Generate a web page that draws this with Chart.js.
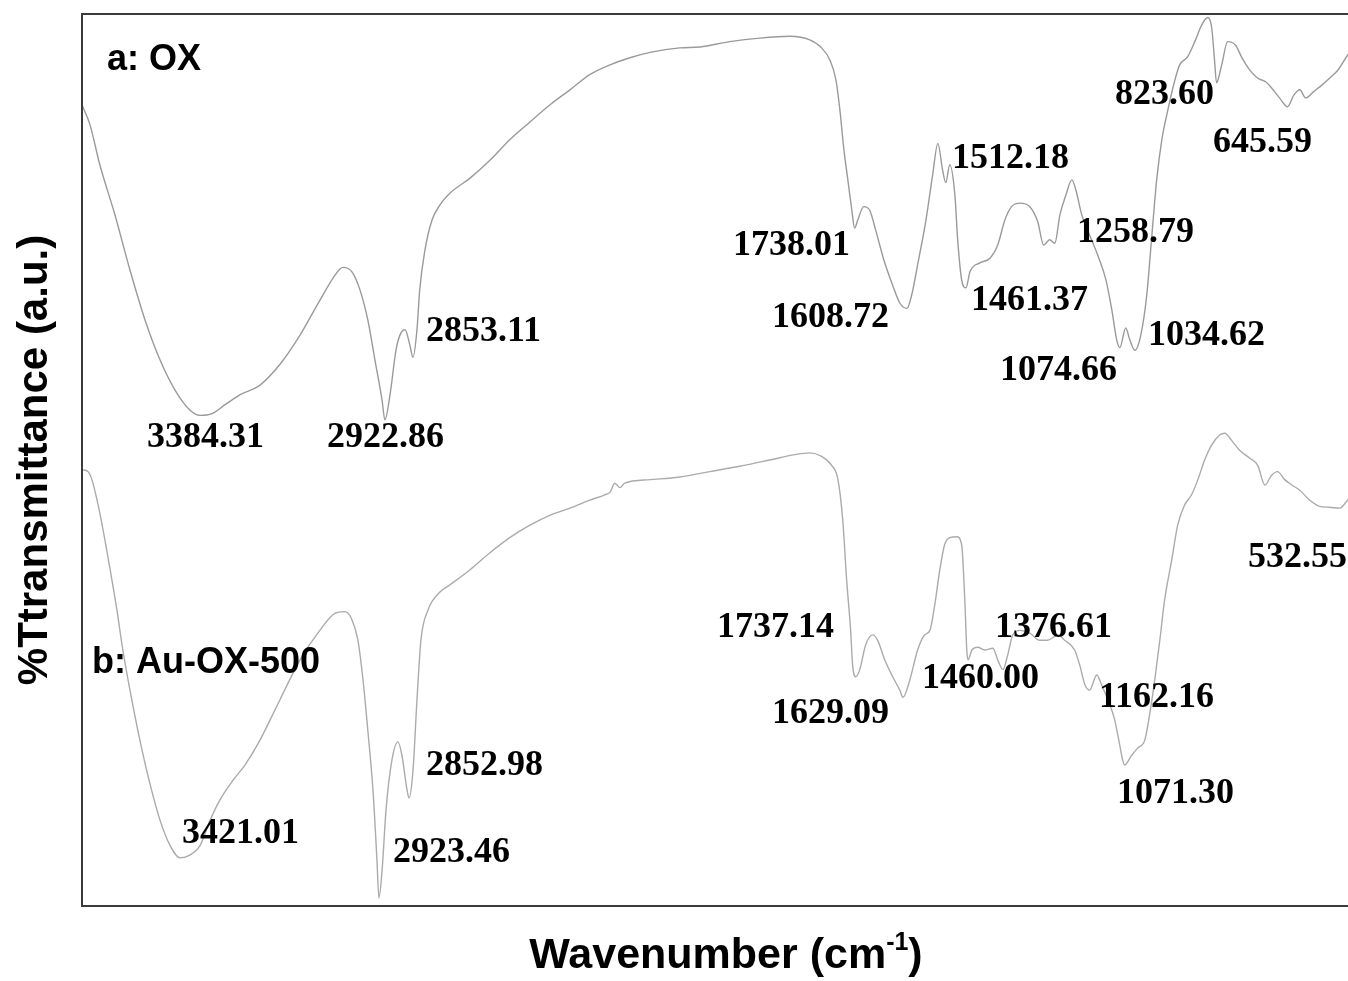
<!DOCTYPE html>
<html lang="en">

<head>
    <meta charset="UTF-8">
    <title>FTIR OX / Au-OX-500</title>
    <style>
        html,
        body {
            margin: 0;
            padding: 0;
            background: #fff;
            overflow: hidden;
        }

        canvas {
            display: block;
        }
    </style>
</head>

<body>

    <canvas id="ftirChart" width="1390" height="981"></canvas>

    <script src="https://cdn.jsdelivr.net/npm/chart.js"></script>

    <script>
        // a: OX
        const oxWavenumber = [
            3687, 3667, 3642, 3604, 3566, 3528, 3490, 3452, 3415, 3389,
            3359, 3326, 3289, 3238, 3188, 3137, 3087, 3049, 3029, 3006,
            2986, 2966, 2948, 2930, 2923, 2910, 2895, 2885, 2872, 2860,
            2852, 2842, 2835, 2822, 2804, 2784, 2759, 2708, 2658, 2608,
            2557, 2507, 2456, 2406, 2355, 2305, 2254, 2179, 2128, 2053,
            1977, 1901, 1851, 1821, 1800, 1785, 1775, 1765, 1755, 1745,
            1738, 1730, 1715, 1700, 1685, 1664, 1642, 1624, 1606, 1594,
            1579, 1558, 1541, 1528, 1516, 1508, 1498, 1485, 1478, 1468,
            1457, 1447, 1422, 1397, 1377, 1359, 1342, 1321, 1296, 1276,
            1261, 1246, 1233, 1220, 1205, 1190, 1180, 1165, 1145, 1125,
            1104, 1089, 1077, 1069, 1054, 1044, 1031, 1016, 1001, 989,
            976, 963, 948, 930, 918, 898, 878, 862, 847, 837,
            830, 825, 812, 797, 777, 761, 741, 721, 701, 686,
            666, 646, 630, 615, 600, 580, 560, 540, 519, 494,
            474
        ];
        const oxTransmittance = [
            89.8, 87.6, 83.1, 77.5, 71.3, 65.7, 61.2, 57.8, 55.6, 55.0,
            55.2, 56.2, 57.3, 58.4, 60.7, 64.0, 67.9, 70.7, 71.6, 71.1,
            69.1, 65.7, 61.2, 56.7, 54.5, 57.3, 62.3, 64.0, 64.6, 62.9,
            61.5, 64.6, 69.1, 73.5, 76.9, 78.6, 79.9, 81.6, 83.6, 85.9,
            87.9, 89.8, 91.5, 93.2, 94.3, 95.1, 95.7, 96.2, 96.3, 96.9,
            97.3, 97.5, 97.1, 96.2, 94.8, 92.6, 89.2, 84.8, 81.4, 78.0,
            76.0, 76.9, 78.4, 78.0, 75.8, 72.4, 69.6, 67.6, 67.0, 68.5,
            71.9, 76.9, 82.0, 85.5, 82.5, 81.1, 83.1, 79.7, 74.7, 70.2,
            69.3, 71.1, 72.1, 72.6, 74.1, 76.9, 78.4, 78.8, 78.4, 76.7,
            74.1, 74.7, 74.3, 77.5, 79.7, 81.4, 80.3, 77.5, 75.2, 73.0,
            70.2, 66.8, 63.5, 62.6, 64.8, 63.5, 62.3, 64.0, 68.5, 74.7,
            81.4, 85.9, 89.2, 92.6, 94.3, 95.2, 97.1, 98.8, 99.6, 98.4,
            94.8, 92.3, 94.3, 96.9, 96.5, 95.1, 93.7, 92.8, 92.4, 91.7,
            90.6, 89.6, 90.9, 91.5, 90.6, 91.3, 92.0, 92.8, 93.7, 95.4,
            96.5
        ];

        // b: Au-OX-500
        const auWavenumber = [
            3687, 3672, 3662, 3649, 3634, 3616, 3599, 3584, 3566, 3541,
            3515, 3490, 3465, 3440, 3415, 3389, 3364, 3339, 3306, 3276,
            3238, 3188, 3137, 3087, 3049, 3024, 3006, 2991, 2978, 2966,
            2953, 2943, 2938, 2930, 2920, 2905, 2890, 2880, 2867, 2862,
            2852, 2842, 2832, 2814, 2784, 2759, 2708, 2658, 2608, 2557,
            2507, 2456, 2406, 2368, 2355, 2343, 2330, 2318, 2254, 2179,
            2103, 2028, 1952, 1889, 1851, 1821, 1796, 1780, 1768, 1758,
            1748, 1743, 1735, 1725, 1710, 1692, 1680, 1662, 1642, 1624,
            1616, 1599, 1579, 1561, 1548, 1536, 1523, 1511, 1498, 1480,
            1468, 1460, 1455, 1452, 1442, 1427, 1410, 1389, 1377, 1364,
            1352, 1339, 1321, 1296, 1271, 1251, 1225, 1208, 1183, 1170,
            1157, 1145, 1127, 1115, 1099, 1082, 1069, 1062, 1057, 1039,
            1024, 1006, 994, 981, 968, 956, 938, 923, 905, 888,
            872, 855, 837, 817, 804, 787, 767, 741, 721, 703,
            686, 671, 653, 635, 615, 590, 565, 540, 514, 494,
            474
        ];
        const auTransmittance = [
            48.9, 48.7, 47.8, 45.5, 42.2, 37.7, 33.2, 28.7, 24.2, 18.6,
            13.6, 9.6, 6.8, 5.4, 5.7, 6.8, 9.6, 11.9, 14.1, 15.8,
            18.6, 23.1, 27.6, 30.9, 32.8, 33.0, 32.1, 29.8, 25.3, 19.7,
            13.0, 5.2, 0.9, 4.0, 10.8, 16.4, 18.4, 16.9, 13.0, 12.1,
            15.2, 23.1, 29.8, 33.2, 35.2, 36.0, 37.7, 39.6, 41.3, 42.7,
            43.8, 44.6, 45.5, 46.1, 46.4, 47.4, 46.9, 47.4, 47.8, 48.1,
            48.7, 49.3, 50.0, 50.6, 50.8, 50.4, 49.4, 47.8, 43.3, 36.5,
            30.9, 27.0, 25.7, 26.5, 29.3, 30.4, 29.8, 27.6, 25.7, 24.2,
            23.4, 25.3, 28.7, 30.4, 30.9, 33.7, 37.7, 40.5, 41.3, 41.4,
            40.5, 34.3, 28.7, 27.6, 28.7, 29.0, 28.7, 28.9, 27.6, 26.5,
            28.1, 30.4, 30.9, 30.6, 29.8, 29.8, 30.4, 29.8, 28.7, 27.0,
            24.8, 24.2, 25.9, 24.8, 23.1, 20.9, 18.0, 16.4, 15.8, 16.9,
            17.7, 18.6, 21.4, 25.3, 29.8, 34.3, 38.8, 42.7, 45.0, 46.1,
            47.8, 50.0, 51.7, 52.8, 53.0, 52.2, 51.1, 50.2, 49.4, 47.2,
            48.3, 48.7, 47.8, 47.2, 46.6, 45.5, 44.8, 44.7, 44.6, 45.5,
            46.1
        ];

        // 피크 라벨 (텍스트만, 위치는 아래 플러그인에서)
        const oxPeaks = ['3384.31', '2922.86', '2853.11', '1738.01', '1608.72', '1512.18',
            '1461.37', '1258.79', '1074.66', '1034.62', '823.60', '645.59'];
        const auPeaks = ['3421.01', '2923.46', '2852.98', '1737.14', '1629.09', '1460.00',
            '1376.61', '1162.16', '1071.30', '532.55'];

        const toPoints = (xs, ys) => xs.map((x, i) => ({ x: x, y: ys[i] }));

        // label placement, px offset from chart area top-left
        const oxPeakPos = [[65, 433], [245, 433], [344, 327], [651, 241], [690, 313], [870, 154],
            [889, 296], [995, 228], [918, 366], [1066, 331], [1033, 90], [1131, 138]];
        const auPeakPos = [[100, 829], [311, 848], [344, 761], [635, 623], [690, 709], [840, 674],
            [913, 623], [1017, 693], [1035, 789], [1166, 553]];

        const annotate = {
            id: 'annotate',
            afterDraw(chart) {
                const ctx = chart.ctx;
                const a = chart.chartArea;
                ctx.save();

                // frame
                ctx.strokeStyle = '#3a3a3a';
                ctx.lineWidth = 2;
                ctx.strokeRect(a.left, a.top, a.right - a.left, a.bottom - a.top);

                ctx.fillStyle = '#000';
                ctx.textAlign = 'left';
                ctx.textBaseline = 'alphabetic';

                ctx.font = 'bold 36px "Liberation Serif", "Times New Roman", serif';
                oxPeaks.forEach((t, i) => ctx.fillText(t, a.left + oxPeakPos[i][0], a.top + oxPeakPos[i][1]));
                auPeaks.forEach((t, i) => ctx.fillText(t, a.left + auPeakPos[i][0], a.top + auPeakPos[i][1]));

                ctx.font = 'bold 36px "Liberation Sans", Arial, sans-serif';
                ctx.fillText('a: OX', a.left + 25, a.top + 56);
                ctx.fillText('b: Au-OX-500', a.left + 10, a.top + 659);

                // x axis title with superscript
                const main = 'Wavenumber (cm';
                const sup = '-1';
                const tail = ')';
                ctx.font = 'bold 43px "Liberation Sans", Arial, sans-serif';
                const w1 = ctx.measureText(main).width;
                const w3 = ctx.measureText(tail).width;
                ctx.font = 'bold 25px "Liberation Sans", Arial, sans-serif';
                const w2 = ctx.measureText(sup).width;
                let x = 726 - (w1 + w2 + w3) / 2;
                const base = 968;
                ctx.font = 'bold 43px "Liberation Sans", Arial, sans-serif';
                ctx.fillText(main, x, base);
                x += w1;
                ctx.font = 'bold 25px "Liberation Sans", Arial, sans-serif';
                ctx.fillText(sup, x, base - 18);
                x += w2;
                ctx.font = 'bold 43px "Liberation Sans", Arial, sans-serif';
                ctx.fillText(tail, x, base);

                // y axis title
                ctx.translate(35, 460);
                ctx.rotate(-Math.PI / 2);
                ctx.textAlign = 'center';
                ctx.textBaseline = 'middle';
                ctx.font = 'bold 42px "Liberation Sans", Arial, sans-serif';
                ctx.fillText('%Ttransmittance (a.u.)', 0, 0);

                ctx.restore();
            }
        };

        const ctx = document.getElementById('ftirChart').getContext('2d');
        const ftirChart = new Chart(ctx, {
            type: 'line',
            data: {
                datasets: [{
                    label: 'a: OX',
                    data: toPoints(oxWavenumber, oxTransmittance),
                    borderColor: '#9a9a9a',
                    borderWidth: 1.4,
                    pointRadius: 0,
                    fill: false,
                    cubicInterpolationMode: 'monotone'
                }, {
                    label: 'b: Au-OX-500',
                    data: toPoints(auWavenumber, auTransmittance),
                    borderColor: '#ababab',
                    borderWidth: 1.4,
                    pointRadius: 0,
                    fill: false,
                    cubicInterpolationMode: 'monotone'
                }]
            },
            options: {
                responsive: false,
                animation: false,
                layout: {
                    padding: { left: 82, top: 14, right: 5, bottom: 75 }
                },
                plugins: {
                    legend: { display: false },
                    tooltip: { enabled: false }
                },
                scales: {
                    x: {
                        type: 'linear',
                        reverse: true,
                        min: 400,
                        max: 3687,
                        display: false
                    },
                    y: {
                        min: 0,
                        max: 100,
                        display: false
                    }
                }
            },
            plugins: [annotate]
        });
    </script>

</body>

</html>
